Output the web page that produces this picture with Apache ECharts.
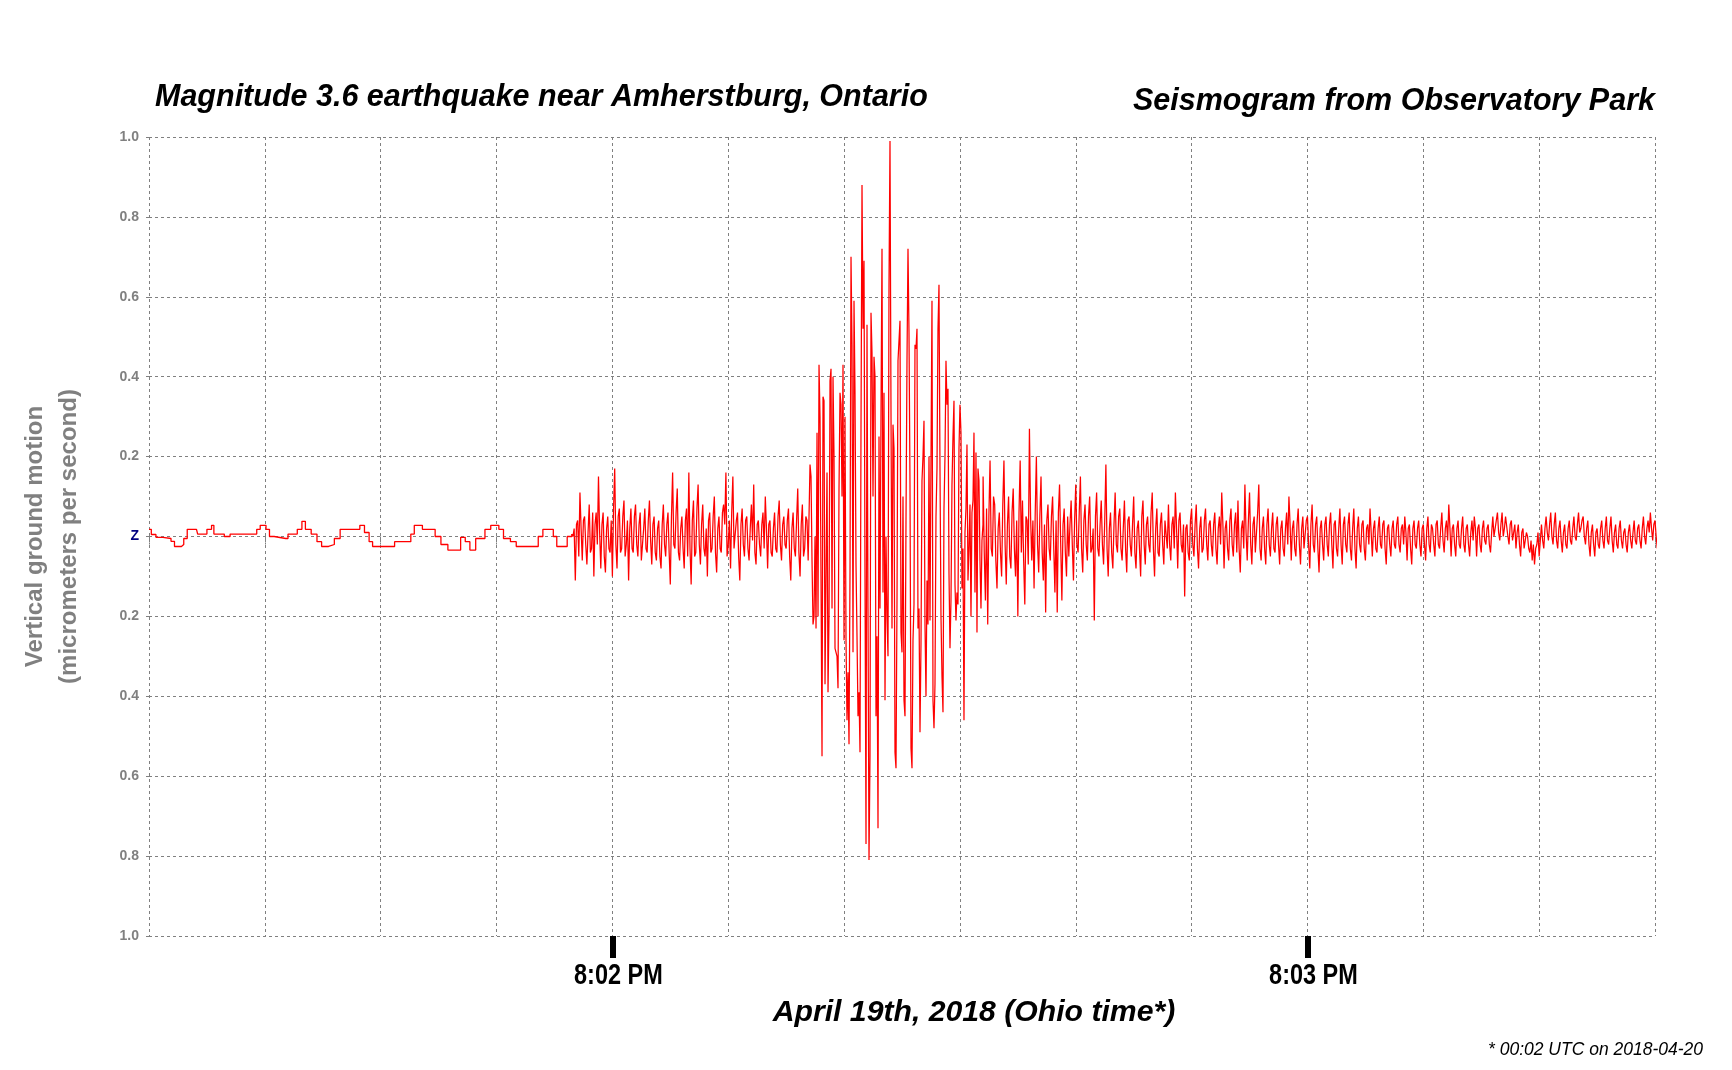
<!DOCTYPE html>
<html>
<head>
<meta charset="utf-8">
<script src="https://cdn.jsdelivr.net/npm/echarts@6/dist/echarts.min.js"></script>
<style>
html,body{margin:0;padding:0;background:#fff;}
#chart{width:1732px;height:1070px;}
</style>
</head>
<body>
<div id="chart"></div>
<script>
// time in seconds after 8:01:20 PM (Ohio time); ground motion in micrometers per second
const titleMain = 'Magnitude 3.6 earthquake near Amherstburg, Ontario';
const titleSide = 'Seismogram from Observatory Park';
const xAxisTitle = 'April 19th, 2018 (Ohio time*)';
const footnote = '* 00:02 UTC on 2018-04-20';
const yAxisTitle = 'Vertical ground motion\n(micrometers per second)';

const timeTicks = [40, 100];
const timeTickLabels = ['8:02 PM', '8:03 PM'];

// quiet background before the first arrivals (step-like trace)
const preTimes = [0,0.2,0.6,1.2,1.9,2.2,2.8,3.0,3.3,4.1,4.2,4.8,5.0,5.4,5.6,6.5,7.0,9.0,9.3,9.6,10.1,10.4,10.8,11.8,12.0,12.8,13.2,13.5,14.0,14.5,14.9,15.5,16.0,16.5,17.8,18.2,18.6,19.0,19.3,21.0,21.2,22.3,22.6,22.9,23.6,24.4,24.7,25.2,25.8,26.6,26.9,27.3,27.7,28.2,28.7,29.0,29.5,30.2,30.6,31.2,31.7,33.4,33.6,34.0,34.6,34.9,35.2,35.8,36.1,36.5];
const preValues = [0.018,0.005,-0.002,-0.005,-0.012,-0.025,-0.02,-0.005,0.018,0.018,0.006,0.006,0.018,0.028,0.006,0.0,0.006,0.006,0.018,0.028,0.018,0.0,-0.005,-0.005,0.006,0.018,0.038,0.018,0.006,-0.013,-0.025,-0.02,-0.005,0.018,0.018,0.028,0.01,-0.013,-0.025,-0.025,-0.013,-0.013,0.006,0.028,0.018,0.018,0.0,-0.02,-0.034,-0.034,-0.002,-0.013,-0.034,-0.005,-0.005,0.018,0.028,0.018,-0.005,-0.013,-0.025,-0.025,0.0,0.018,0.018,0.0,-0.025,-0.025,0.0,0.006];

// P-wave coda, sampled every 0.1 s from 36.6 s
const codaAStart = 36.6, codaAStep = 0.1;
const codaAValues = [
0.0,0.02,-0.11,0.03,0.04,-0.05,0.11,0.02,-0.06,0.04,0.05,-0.02,-0.07,0.01,0.08,-0.04,-0.03,0.06,-0.10,0.03,
0.06,-0.02,0.15,0.01,-0.08,0.03,0.06,-0.05,-0.09,0.02,0.05,-0.03,-0.04,0.04,-0.10,0.07,0.17,-0.02,-0.08,0.05,
0.07,-0.04,-0.03,0.05,0.09,-0.05,-0.02,0.04,-0.11,0.02,0.07,-0.03,-0.04,0.05,0.08,-0.02,-0.05,0.03,0.06,-0.06,
-0.06,0.02,0.07,-0.03,-0.04,0.04,0.09,-0.01,-0.07,0.03,0.05,-0.04,-0.06,0.02,0.04,-0.05,-0.08,0.03,0.08,-0.02,
-0.05,0.03,0.06,-0.04,-0.12,0.05,0.16,-0.02,-0.03,0.06,0.12,-0.04,-0.06,0.02,0.05,-0.03,-0.08,0.04,0.07,-0.05,
0.16,-0.03,-0.12,0.04,0.09,-0.05,-0.04,0.07,0.13,-0.02,-0.07,0.03,0.08,-0.03,-0.05,0.02,-0.10,0.04,0.06,-0.04,
-0.03,0.05,0.10,-0.04,-0.09,0.02,0.05,-0.03,-0.04,0.06,0.08,0.03,0.16,-0.05,-0.02,0.04,-0.08,0.06,0.15,-0.03,
-0.03,0.04,0.06,-0.05,-0.11,0.03,0.07,-0.02,-0.05,0.04,0.05,-0.03,-0.06,0.02,0.08,-0.01,0.13,-0.04,-0.07,0.03,
0.04,-0.02,-0.05,0.03,0.06,-0.03,0.10,0.02,-0.08,0.03,0.04,-0.04,-0.05,0.02,0.06,-0.03,-0.04,0.05,0.09,-0.02,
-0.06,0.03,0.05,-0.02,-0.03,0.04,0.07,-0.05,-0.11,0.02,0.06,-0.03,-0.05,0.04,0.12,-0.04,-0.10,0.03,0.08,-0.05,
-0.03,0.05,0.04,-0.06];

// strong shaking (S waves), sampled every 0.0863 s from 57.06 s
const burstStart = 57.06, burstStep = 0.0863;
const burstValues = [
0.18,0.15,-0.06,-0.22,-0.20,0.0,-0.23,0.26,-0.20,0.43,
0.30,-0.10,-0.55,0.35,0.34,-0.37,-0.10,0.16,-0.39,-0.20,
0.39,0.42,-0.18,0.40,0.20,-0.28,-0.28,-0.30,-0.38,0.12,
0.36,0.33,0.10,0.43,-0.26,0.30,-0.26,-0.46,-0.34,-0.52,
-0.09,0.70,0.48,-0.29,0.59,0.36,-0.07,-0.25,-0.45,-0.39,
-0.54,0.28,0.88,0.52,0.69,-0.10,-0.77,0.53,-0.18,-0.81,
-0.55,0.56,0.46,0.10,0.45,0.40,-0.45,-0.25,-0.73,0.25,
-0.18,0.31,0.72,-0.14,0.36,-0.41,0.00,-0.20,-0.30,0.63,
0.99,0.31,-0.23,0.28,0.22,-0.54,-0.58,-0.16,0.44,0.49,
0.54,-0.24,-0.29,0.10,-0.41,-0.45,0.04,0.44,0.72,0.51,
0.13,-0.53,-0.58,-0.26,-0.17,0.48,0.47,0.52,-0.23,-0.18,
-0.49,-0.27,0.14,0.20,0.29,-0.22,-0.40,-0.11,-0.22,0.20,
-0.21,0.19,0.59,-0.41,-0.48,-0.37,0.05,0.17,0.52,0.63,
0.17,-0.20,-0.35,-0.44,0.07,0.20,0.44,0.33,0.37,-0.09,
-0.28,-0.16,0.13,0.25,0.34,-0.12,-0.21,-0.14,-0.17,0.22,
0.33,0.26,-0.13,-0.03,-0.46,0.01,0.07,0.23,-0.11,-0.03,
0.08,-0.20,0.06,0.09,0.26,-0.14,0.21,-0.24,0.17,0.14,
-0.06,-0.18,-0.01,0.03];

// decaying coda, sampled every 0.1 s from 72.0 s
const codaBStart = 72.0, codaBStep = 0.1;
const codaBValues = [
0.15,-0.04,-0.16,0.07,-0.22,0.05,0.19,-0.03,-0.05,0.10,0.08,-0.06,-0.13,0.02,0.06,-0.04,-0.10,0.08,0.19,-0.02,
-0.12,0.03,0.10,-0.05,-0.08,0.06,0.12,-0.03,-0.10,0.04,-0.20,0.06,0.19,-0.04,0.09,-0.06,-0.17,0.05,0.04,-0.07,
0.27,0.05,-0.06,0.04,-0.13,0.06,0.20,-0.02,-0.09,0.05,0.15,-0.04,-0.11,0.03,-0.19,0.04,0.08,-0.03,-0.06,0.05,
0.10,-0.03,-0.14,0.04,-0.19,0.06,0.13,-0.02,-0.16,0.03,0.07,-0.04,-0.10,0.05,-0.05,0.03,0.09,-0.02,-0.11,0.04,
0.13,-0.02,-0.04,0.06,0.15,-0.03,-0.09,0.04,0.08,-0.02,-0.06,0.05,0.10,-0.04,-0.03,0.02,-0.21,0.05,0.11,-0.03,
-0.05,0.03,0.09,-0.02,-0.07,0.04,0.18,-0.03,-0.10,0.02,0.06,-0.04,-0.08,0.03,0.11,-0.02,-0.04,0.05,0.07,-0.03,
-0.06,0.02,0.09,-0.03,-0.09,0.04,0.05,-0.02,-0.05,0.03,0.10,-0.04,-0.08,0.02,0.04,-0.03,-0.10,0.05,0.09,-0.02,
-0.07,0.03,0.05,-0.02,-0.04,0.06,0.11,-0.03,-0.10,0.02,0.07,-0.04,-0.05,0.03,0.06,-0.02,-0.07,0.04,0.04,-0.03,
0.08,-0.02,-0.06,0.03,0.05,-0.03,0.11,0.02,-0.08,0.04,0.06,-0.02,-0.04,0.03,-0.15,0.02,0.03,-0.04,-0.06,0.04,
0.07,-0.02,-0.05,0.03,0.08,-0.03,-0.08,0.02,0.05,-0.04,-0.03,0.04,0.07,-0.02,-0.06,0.03,0.04,-0.02,-0.05,0.03,
0.06,-0.03,-0.07,0.02,0.05,-0.02,0.11,0.03,-0.08,0.02,0.04,-0.03,-0.06,0.04,0.07,-0.02,-0.05,0.03,0.06,-0.04,
0.09,-0.03,-0.09,0.02,0.04,-0.03,0.13,0.01,-0.06,0.04,0.11,-0.02,-0.07,0.03,0.05,-0.04,-0.04,0.06,0.13,-0.03,
-0.06,0.02,0.05,-0.03,-0.07,0.03,0.07,-0.02,-0.05,0.02,0.06,-0.03,-0.04,0.03,0.05,-0.02,-0.07,0.02,0.04,-0.03,
-0.05,0.02,0.06,-0.02,0.10,0.03,-0.06,0.02,0.04,-0.03,-0.05,0.03,0.07,-0.02,-0.07,0.02,0.05,-0.03,-0.03,0.04,
0.05,-0.02,-0.08,0.03,0.08,-0.02,-0.04,0.03,0.05,-0.03,-0.09,0.02,0.04,-0.02,-0.06,0.03,0.05,-0.02,-0.05,0.03,
0.06,-0.02,-0.08,0.03,0.04,-0.03,-0.05,0.02,0.07,-0.02,-0.07,0.03,0.05,-0.02,-0.04,0.03,0.06,-0.03,-0.06,0.02,
0.07,-0.03,-0.08,0.02,0.05,-0.02,-0.04,0.03,0.04,-0.03,-0.06,0.02,0.03,-0.02,0.07,0.01,-0.05,0.02,0.04,-0.03,
-0.04,0.02,0.05,-0.02,-0.03,0.03,0.04,-0.03,-0.07,0.02,0.03,-0.02,-0.05,0.02,0.04,-0.02,-0.03,0.03,0.05,-0.02,
-0.04,0.02,0.03,-0.02,0.05,0.01,-0.06,0.02,0.03,-0.03,-0.07,0.02,0.04,-0.02,-0.03,0.02,0.04,-0.02,-0.05,0.02,
0.03,-0.02,-0.06,0.02,0.05,-0.02,-0.04,0.03,0.02,-0.02,-0.05,0.03,0.04,-0.02,-0.03,0.02,0.06,-0.01,-0.04,0.02,
0.04,-0.01,0.08,0.02,-0.05,0.02,0.03,-0.02,-0.05,0.02,0.04,-0.02,-0.03,0.02,0.05,-0.02,-0.04,0.02,0.03,-0.02,
-0.05,0.01,0.04,-0.01,0.05,0.02,-0.05,0.02,0.03,-0.02,-0.04,0.02,0.04,-0.01,-0.02,0.02,0.03,-0.02,-0.04,0.01,
0.05,0.00,0.02,0.04,0.06,0.01,-0.01,0.03,0.06,0.00,0.02,0.05,0.05,0.00,-0.02,0.03,0.04,-0.01,0.01,0.03,
-0.03,0.01,0.03,-0.02,-0.05,0.01,0.02,-0.03,-0.03,0.01,0.00,-0.03,-0.04,-0.01,-0.06,-0.02,-0.07,-0.03,-0.02,0.01,
-0.05,-0.01,0.03,-0.01,-0.03,0.02,0.05,0.01,-0.01,0.03,0.06,0.00,-0.02,0.03,0.06,-0.01,-0.03,0.02,0.04,-0.01,
-0.04,0.01,0.03,-0.02,-0.03,0.02,0.04,-0.01,-0.02,0.02,0.05,0.00,-0.01,0.03,0.06,0.01,0.02,0.04,0.05,0.00,
-0.02,0.02,0.04,-0.02,-0.05,0.01,0.03,-0.02,-0.05,0.01,0.02,-0.02,-0.03,0.02,0.04,-0.01,-0.03,0.02,0.05,-0.01,
-0.02,0.02,0.05,-0.01,-0.04,0.01,0.03,-0.02,-0.03,0.02,0.04,-0.01,-0.03,0.01,0.02,-0.02,-0.04,0.01,0.03,-0.01,
-0.03,0.01,0.04,-0.01,-0.02,0.02,0.03,-0.01,-0.03,0.02,0.05,0.00,-0.02,0.02,0.04,0.01,0.06,0.02,-0.01,0.03,
0.04,0.00,-0.03,0.01,0.02,-0.02,-0.03,-0.01,-0.01];

function sampled(start, step, values) {
  return values.map((v, i) => [start + i * step, v]);
}
const preData = preTimes.map((t, i) => [t, preValues[i]]);
const traceData = [].concat(
  [[preTimes[preTimes.length - 1], preValues[preValues.length - 1]]],
  sampled(codaAStart, codaAStep, codaAValues),
  sampled(burstStart, burstStep, burstValues),
  sampled(codaBStart, codaBStep, codaBValues)
);

const grey = '#808080';
const sans = 'Liberation Sans, Arial, sans-serif';
const chart = echarts.init(document.getElementById('chart'), null, {renderer: 'canvas'});
chart.setOption({
  animation: false,
  backgroundColor: '#ffffff',
  title: [
    {text: titleMain, left: 150, top: 78,
     textStyle: {fontFamily: sans, fontWeight: 'bold', fontStyle: 'italic', fontSize: 30.5, color: '#000'}},
    {text: titleSide, right: 72, top: 82,
     textStyle: {fontFamily: sans, fontWeight: 'bold', fontStyle: 'italic', fontSize: 30.5, color: '#000'}},
    {text: xAxisTitle, left: 969, top: 993, textAlign: 'center',
     textStyle: {fontFamily: sans, fontWeight: 'bold', fontStyle: 'italic', fontSize: 30.2, color: '#000'}},
    {text: footnote, right: 24, top: 1036,
     textStyle: {fontFamily: sans, fontWeight: 'normal', fontStyle: 'italic', fontSize: 17.5, color: '#000'}}
  ],
  grid: {left: 149, right: 77, top: 137, bottom: 134, containLabel: false},
  xAxis: [
    {type: 'value', min: 0, max: 130, interval: 10,
     axisLine: {show: false},
     axisTick: {show: true, length: 8, lineStyle: {color: grey, type: [3, 3], width: 1}},
     axisLabel: {show: false},
     splitLine: {show: true, lineStyle: {color: grey, type: [3, 3], width: 1}}},
    {type: 'value', min: 0, max: 130, position: 'bottom',
     axisLine: {show: false},
     splitLine: {show: false},
     axisTick: {show: true, customValues: timeTicks, length: 22, lineStyle: {color: '#000', width: 6}},
     axisLabel: {show: false}}
  ],
  yAxis: {
    type: 'value', min: -1, max: 1, interval: 0.2,
    name: yAxisTitle, nameLocation: 'middle', nameRotate: 90, nameGap: 63,
    nameTextStyle: {fontFamily: sans, fontWeight: 'bold', fontSize: 24, color: grey, lineHeight: 34},
    axisLine: {show: false},
    axisTick: {show: true, length: 6, lineStyle: {color: grey, type: [3, 3]}},
    axisLabel: {margin: 10, fontFamily: sans, fontWeight: 'bold', fontSize: 14, color: grey,
      formatter: function (v) { return Math.abs(v) < 1e-9 ? '{z|Z}' : Math.abs(v).toFixed(1); },
      rich: {z: {color: '#000080', fontSize: 14, fontFamily: sans}}},
    splitLine: {show: true, lineStyle: {color: grey, type: [3, 3], width: 1}}
  },
  series: [
    {name: 'background', type: 'line', data: preData, step: 'end', showSymbol: false, clip: false,
     lineStyle: {color: '#ff0000', width: 1.3}, emphasis: {disabled: true}},
    {name: 'vertical motion', type: 'line', data: traceData, showSymbol: false, clip: false, sampling: null,
     lineStyle: {color: '#ff0000', width: 1.25}, emphasis: {disabled: true}}
  ]
});

// condensed bold time labels under the major ticks, placed through the axis scale
const axisBottom = chart.convertToPixel({yAxisIndex: 0}, -1);
chart.setOption({
  graphic: timeTicks.map(function (t, i) {
    const px = chart.convertToPixel({xAxisIndex: 1}, t);
    return {type: 'text', x: px + 6, y: axisBottom + 25, scaleX: 0.81, silent: true,
      style: {text: timeTickLabels[i], font: 'bold 29px Liberation Sans, Arial, sans-serif',
        fill: '#000', align: 'center', verticalAlign: 'top'}};
  })
});
</script>
</body>
</html>
